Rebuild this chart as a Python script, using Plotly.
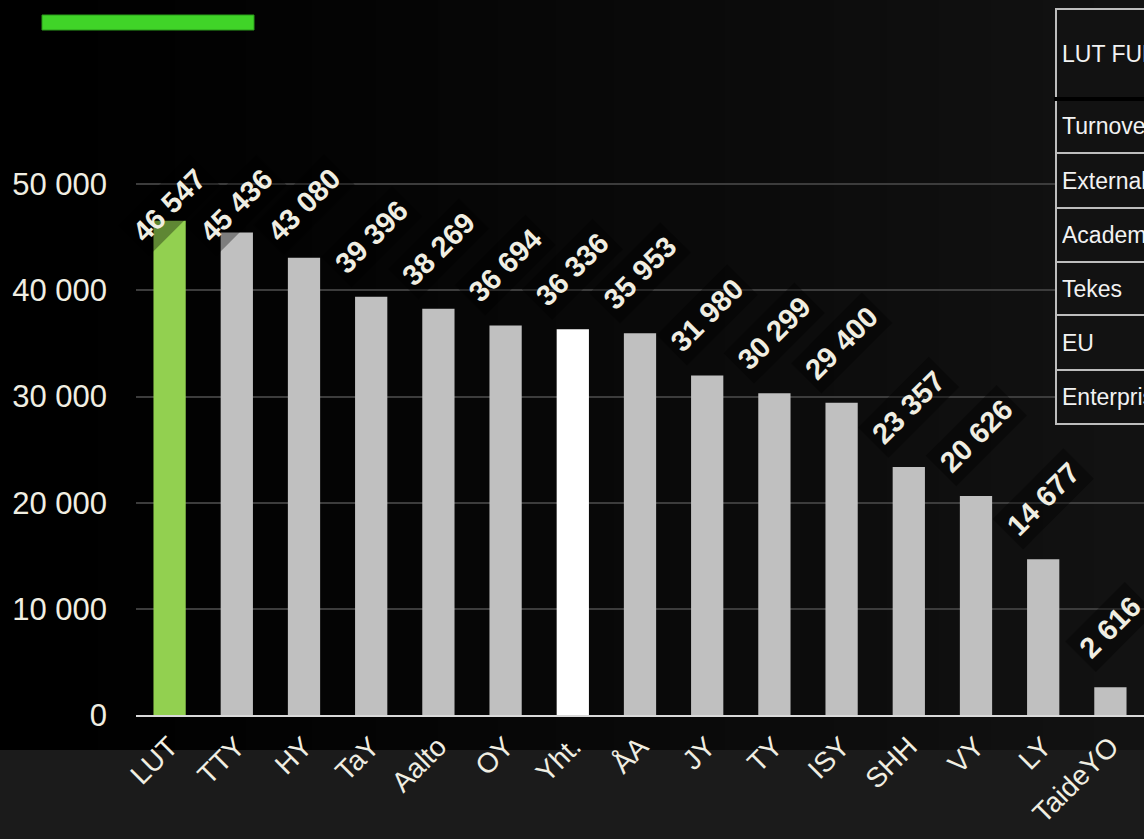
import plotly.graph_objects as go

# ---- data ----
categories = ["LUT", "TTY", "HY", "TaY", "Aalto", "OY", "Yht.", "ÅA", "JY", "TY",
              "ISY", "SHH", "VY", "LY", "TaideYO"]
values = [46547, 45436, 43080, 39396, 38269, 36694, 36336, 35953, 31980, 30299,
          29400, 23357, 20626, 14677, 2616]
y_tickvals = [0, 10000, 20000, 30000, 40000, 50000]
y_ticktext = ["0", "10 000", "20 000", "30 000", "40 000", "50 000"]
table_header = "LUT FUNDING"
table_rows = ["Turnover", "External funding", "Academy of Finland", "Tekes", "EU", "Enterprises"]

# ---- layout geometry (pixels) ----
W, H = 1144, 839
L, T, PW, PH = 136, 78, 1008, 637
YMAX = 60000


def pxx(x):
    return (x - L) / PW


def pxy(y):
    return (T + PH - y) / PH


def fmt(v):
    return f"{v:,}".replace(",", " ")


GREEN = "#92d050"
SILVER = "#c0c0c0"
TXT = "#f0eee2"
bar_colors = [GREEN if c == "LUT" else ("#ffffff" if c == "Yht." else SILVER) for c in categories]

fig = go.Figure()
fig.add_trace(go.Bar(
    x=categories, y=values, marker=dict(color=bar_colors, line=dict(width=0)),
    hoverinfo="x+y",
))

shapes = []
# background gradient: distinct grey levels, each drawn once from its start to the right edge
levels = list(range(1, 19))
for g in levels:
    x0 = W * (g / 19) ** (1 / 1.2)
    shapes.append(dict(type="rect", xref="paper", yref="paper",
                       x0=pxx(round(x0)), x1=pxx(W + 10), y0=pxy(750), y1=pxy(-10),
                       fillcolor=f"rgb({g},{g},{g})", line=dict(width=0), layer="below"))
# bottom band
shapes.append(dict(type="rect", xref="paper", yref="paper",
                   x0=pxx(-10), x1=pxx(W + 10), y0=pxy(H + 10), y1=pxy(750),
                   fillcolor="#1b1b1b", line=dict(width=0), layer="below"))
# green decorative line
shapes.append(dict(type="rect", xref="paper", yref="paper",
                   x0=pxx(42), x1=pxx(254), y0=pxy(30), y1=pxy(15),
                   fillcolor="#40d428", line=dict(width=1, color="#2a9a1a"), layer="above"))

# table
row_edges = [9, 99, 153, 208, 262, 315, 370, 424]
tx0 = 1056
shapes.append(dict(type="rect", xref="paper", yref="paper",
                   x0=pxx(tx0), x1=pxx(W + 20), y0=pxy(row_edges[-1]), y1=pxy(row_edges[0]),
                   fillcolor="#121212", line=dict(width=2, color="#bdbdbd"), layer="above"))
for yy in row_edges[2:-1]:
    shapes.append(dict(type="line", xref="paper", yref="paper",
                       x0=pxx(tx0), x1=pxx(W + 20), y0=pxy(yy), y1=pxy(yy),
                       line=dict(width=2, color="#bdbdbd"), layer="above"))
shapes.append(dict(type="line", xref="paper", yref="paper",
                   x0=pxx(tx0 - 2), x1=pxx(W + 20), y0=pxy(row_edges[1]), y1=pxy(row_edges[1]),
                   line=dict(width=4, color="#000000"), layer="above"))

annotations = []
texts = [table_header] + table_rows
for i, t in enumerate(texts):
    yc = (row_edges[i] + row_edges[i + 1]) / 2
    annotations.append(dict(xref="paper", yref="paper", x=pxx(tx0 + 4), y=pxy(yc),
                            xanchor="left", yanchor="middle", text=t, showarrow=False,
                            width=W - tx0 - 6, align="left",
                            font=dict(family="Liberation Sans, Arial", size=23, color="#f2f2f2")))

# data labels
for c, v in zip(categories, values):
    ly = min(v + 5650, 48000)
    annotations.append(dict(x=c, y=ly, xref="x", yref="y", text=f"<b>{fmt(v)}</b>",
                            showarrow=False, textangle=-45, xanchor="center", yanchor="middle",
                            bgcolor="rgba(0,0,0,0.35)", borderpad=5,
                            font=dict(family="Liberation Sans, Arial", size=29, color=TXT)))

fig.update_layout(
    width=W, height=H,
    margin=dict(l=L, r=W - L - PW, t=T, b=H - T - PH, pad=0),
    paper_bgcolor="#000000", plot_bgcolor="rgba(0,0,0,0)",
    showlegend=False, bargap=0.52,
    shapes=shapes, annotations=annotations,
    font=dict(family="Liberation Sans, Arial", color=TXT),
)
fig.update_xaxes(
    tickangle=-45, tickfont=dict(size=28, color=TXT, family="Liberation Sans, Arial"),
    showgrid=False, showline=True, linecolor="#d9d9d9", linewidth=2,
    ticks="", ticklabelstandoff=2, range=[-0.5, len(categories) - 0.5],
)
fig.update_yaxes(
    range=[0, YMAX], tickvals=y_tickvals, ticktext=y_ticktext,
    tickfont=dict(size=31, color=TXT, family="Liberation Sans, Arial"),
    showgrid=True, gridcolor="#3c3c3c", gridwidth=2, zeroline=False,
    showline=False, ticks="", ticklabelstandoff=28,
)

fig.write_html(
    "out.html",
    config={"displayModeBar": False},
    post_script="document.body.style.margin='0';document.body.style.overflow='hidden';"
                "document.body.style.background='#000';",
)
